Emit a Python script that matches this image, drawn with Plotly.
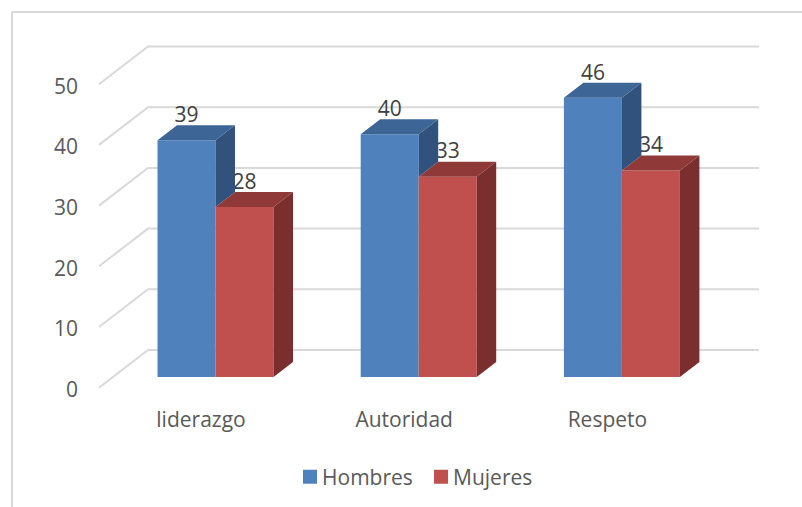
import plotly.graph_objects as go

categories = ["liderazgo", "Autoridad", "Respeto"]
hombres = [39, 40, 46]
mujeres = [28, 33, 34]
grid_values = [0, 10, 20, 30, 40, 50]

W, H = 802, 507
X_ORIGIN, X_UNIT = 215.5, 203.2   # pixel of category 0, pixels per category
Y_ORIGIN, Y_UNIT = 377.0, 6.07    # pixel of value 0, pixels per value unit
BAR_W = 58 / X_UNIT
DX, DY = 19.5 / X_UNIT, 15 / Y_UNIT       # bar depth
WALL_L_FRONT = (99 - X_ORIGIN) / X_UNIT
WALL_L_BACK = (148 - X_ORIGIN) / X_UNIT
WALL_R = (759 - X_ORIGIN) / X_UNIT
WALL_Y_FRONT = -10.7 / Y_UNIT
WALL_Y_BACK = 27 / Y_UNIT
TICK_LABEL_Y = -12.7 / Y_UNIT
LABEL_DY = 23.5 / Y_UNIT
CAT_LABEL_DX = -14.5 / X_UNIT

BLUE, BLUE_TOP, BLUE_SIDE = "#4f81bd", "#3d6595", "#31527c"
RED, RED_TOP, RED_SIDE = "#c0504d", "#8f3a38", "#7a2f2e"
GRID = "#d9d9d9"
FONT = "Open Sans"
FS = 21


def side_face(x_right, low, high):
    xs, ys = [], []
    for x, l, h in zip(x_right, low, high):
        xs += [x, x + DX, x + DX, x, x, None]
        ys += [l, l + DY, h + DY, h, l, None]
    return xs, ys


def top_face(x_left, high):
    xs, ys = [], []
    for x, h in zip(x_left, high):
        xs += [x, x + DX, x + BAR_W + DX, x + BAR_W, x, None]
        ys += [h, h + DY, h + DY, h, h, None]
    return xs, ys


def poly(xy, color):
    return go.Scatter(x=xy[0], y=xy[1], mode="lines", fill="toself", fillcolor=color,
                      line=dict(width=0, color=color), showlegend=False, hoverinfo="skip")


idx = list(range(len(categories)))
blue_left = [i - BAR_W for i in idx]
red_left = idx
red_right = [i + BAR_W for i in idx]

fig = go.Figure()
fig.add_bar(x=idx, y=hombres, name="Hombres", marker=dict(color=BLUE, line=dict(width=0)))
fig.add_bar(x=idx, y=mujeres, name="Mujeres", marker=dict(color=RED, line=dict(width=0)))

fig.add_trace(poly(side_face(red_right, [0] * 3, mujeres), RED_SIDE))
fig.add_trace(poly(top_face(red_left, mujeres), RED_TOP))
fig.add_trace(go.Scatter(
    x=[i - BAR_W / 2 for i in idx] + [i + BAR_W / 2 for i in idx],
    y=[v + LABEL_DY for v in hombres] + [v + LABEL_DY for v in mujeres],
    text=[str(v) for v in hombres + mujeres], mode="text",
    textposition="middle center", textfont=dict(family=FONT, size=FS, color="#404040"),
    showlegend=False, hoverinfo="skip"))
fig.add_trace(poly(side_face(idx, mujeres, hombres), BLUE_SIDE))
fig.add_trace(poly(top_face(blue_left, hombres), BLUE_TOP))

shapes = [dict(type="rect", xref="paper", yref="paper", x0=12 / W, x1=1.02,
               y0=-0.02, y1=1 - 12 / H, line=dict(color=GRID, width=2), layer="below")]
for v in grid_values:
    shapes.append(dict(
        type="path", xref="x", yref="y", layer="below",
        path=f"M{WALL_L_FRONT},{v + WALL_Y_FRONT} L{WALL_L_BACK},{v + WALL_Y_BACK} L{WALL_R},{v + WALL_Y_BACK}",
        line=dict(color=GRID, width=2)))

fig.update_layout(
    width=W, height=H, margin=dict(l=0, r=0, t=0, b=0),
    paper_bgcolor="white", plot_bgcolor="rgba(0,0,0,0)",
    barmode="group", bargap=1 - 2 * BAR_W, bargroupgap=0,
    shapes=shapes,
    font=dict(family=FONT, size=FS, color="#595959"),
    legend=dict(orientation="h", x=0.515, xanchor="center", y=1 - 477 / H, yanchor="middle",
                font=dict(family=FONT, size=FS, color="#595959"), itemwidth=30,
                entrywidth=86, entrywidthmode="pixels",
                bgcolor="rgba(0,0,0,0)"),
    xaxis=dict(range=[(0 - X_ORIGIN) / X_UNIT, (W - X_ORIGIN) / X_UNIT],
               tickvals=[i + CAT_LABEL_DX for i in idx], ticktext=categories,
               showgrid=False, zeroline=False, showline=False, ticks="",
               anchor="free", position=1 - 405 / H, side="bottom"),
    yaxis=dict(range=[(Y_ORIGIN - H) / Y_UNIT, Y_ORIGIN / Y_UNIT],
               tickvals=[v + TICK_LABEL_Y for v in grid_values],
               ticktext=[str(v) for v in grid_values],
               showgrid=False, zeroline=False, showline=False, ticks="",
               anchor="free", position=78 / W, side="left"),
)
post = """
document.body.style.margin='0';
document.querySelectorAll('.legend .legendpoints path').forEach(function(p){
  p.setAttribute('transform','translate(28,0) scale(1.17)');
});
"""
fig.write_html("out.html", post_script=post, config={"displayModeBar": False})
